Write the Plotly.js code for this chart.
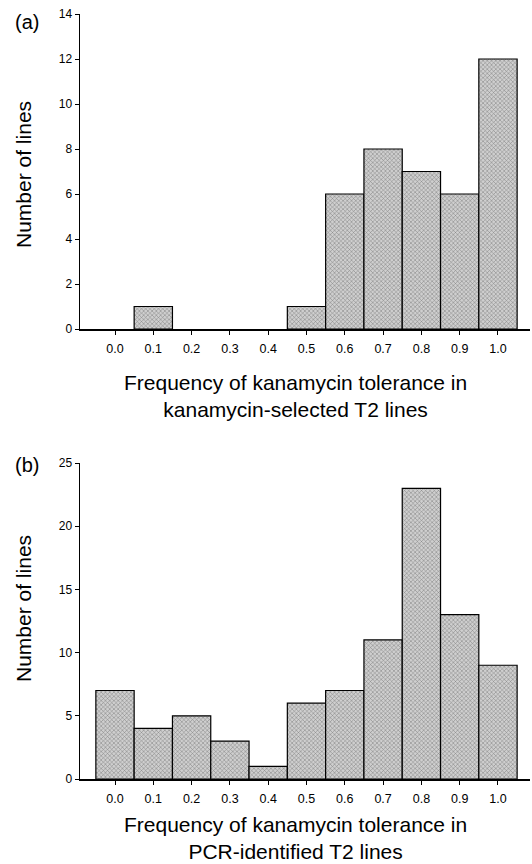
<!DOCTYPE html>
<html>
<head>
<meta charset="utf-8">
<script src="https://cdn.plot.ly/plotly-3.0.1.min.js"></script>
<style>html,body{margin:0;padding:0;background:#fff;}#chart{width:532px;height:864px;}</style>
</head>
<body>
<div id="chart"></div>
<script>
// Bin centres (frequency of kanamycin tolerance)
const bins = [0.0, 0.1, 0.2, 0.3, 0.4, 0.5, 0.6, 0.7, 0.8, 0.9, 1.0];
const tickLabels = ["0.0", "0.1", "0.2", "0.3", "0.4", "0.5", "0.6", "0.7", "0.8", "0.9", "1.0"];
// (a) kanamycin-selected T2 lines
const countsA = [0, 1, 0, 0, 0, 1, 6, 8, 7, 6, 12];
// (b) PCR-identified T2 lines
const countsB = [7, 4, 5, 3, 1, 6, 7, 11, 23, 13, 9];

const fontFam = "Liberation Sans, Arial, sans-serif";
const H = 864, W = 532;
function barMarker(counts) {
  return {
    color: "#c2c2c2",
    line: {color: "#000", width: counts.map(v => (v > 0 ? 1.2 : 0))},
    pattern: {shape: "x", size: 3, solidity: 0.3, fgcolor: "#7c7c7c", bgcolor: "#cfcfcf", fillmode: "replace"}
  };
}

const traces = [
  {type: "bar", x: bins, y: countsA, width: 0.1, marker: barMarker(countsA), xaxis: "x", yaxis: "y", hoverinfo: "x+y"},
  {type: "bar", x: bins, y: countsB, width: 0.1, marker: barMarker(countsB), xaxis: "x2", yaxis: "y2", hoverinfo: "x+y"}
];

const xRange = [-0.0914, 1.0836];
const xCommon = {
  range: xRange, tickmode: "array", tickvals: bins, ticktext: tickLabels,
  ticks: "outside", ticklen: 4, tickwidth: 1, tickcolor: "#000", ticklabelstandoff: 3,
  showline: true, linecolor: "#000", linewidth: 1.5, showgrid: false, zeroline: false,
  tickfont: {family: fontFam, size: 12.5, color: "#000"},
  domain: [80 / W, 530 / W], fixedrange: true
};
const yCommon = {
  ticks: "outside", ticklen: 4, tickwidth: 1, tickcolor: "#000",
  showline: true, linecolor: "#000", linewidth: 1.5, showgrid: false, zeroline: false,
  tickfont: {family: fontFam, size: 12, color: "#000"}, fixedrange: true
};

const layout = {
  width: W, height: H,
  margin: {l: 0, r: 0, t: 0, b: 0},
  paper_bgcolor: "#fff", plot_bgcolor: "#fff",
  showlegend: false, bargap: 0,
  font: {family: fontFam, color: "#000"},
  xaxis: Object.assign({}, xCommon, {anchor: "y"}),
  yaxis: Object.assign({}, yCommon, {anchor: "x", range: [0, 14], dtick: 2, tick0: 0,
    domain: [1 - 329 / H, 1 - 14 / H]}),
  xaxis2: Object.assign({}, xCommon, {anchor: "y2"}),
  yaxis2: Object.assign({}, yCommon, {anchor: "x2", range: [0, 25], dtick: 5, tick0: 0,
    domain: [1 - 779 / H, 1 - 463 / H]}),
  annotations: [
    {text: "(a)", xref: "paper", yref: "paper", x: 13 / W, y: 1 - 22 / H, xanchor: "left", yanchor: "middle", showarrow: false, font: {size: 20}},
    {text: "(b)", xref: "paper", yref: "paper", x: 13 / W, y: 1 - 465 / H, xanchor: "left", yanchor: "middle", showarrow: false, font: {size: 20}},
    {text: "Number of lines", xref: "paper", yref: "paper", x: 23 / W, y: 1 - 175 / H, textangle: -90, xanchor: "center", yanchor: "middle", showarrow: false, font: {size: 21}},
    {text: "Number of lines", xref: "paper", yref: "paper", x: 23 / W, y: 1 - 609 / H, textangle: -90, xanchor: "center", yanchor: "middle", showarrow: false, font: {size: 21}},
    {text: "Frequency of kanamycin tolerance in<br>kanamycin-selected T2 lines", xref: "paper", yref: "paper", x: 295 / W, y: 1 - 396 / H, xanchor: "center", yanchor: "middle", showarrow: false, font: {size: 21}},
    {text: "Frequency of kanamycin tolerance in<br>PCR-identified T2 lines", xref: "paper", yref: "paper", x: 295 / W, y: 1 - 838 / H, xanchor: "center", yanchor: "middle", showarrow: false, font: {size: 21}}
  ]
};

Plotly.newPlot("chart", traces, layout, {displayModeBar: false, staticPlot: true});
</script>
</body>
</html>
